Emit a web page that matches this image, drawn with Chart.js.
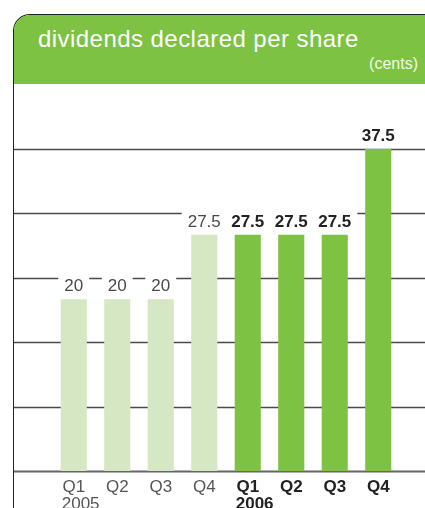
<!DOCTYPE html>
<html>
<head>
<meta charset="utf-8">
<script src="https://cdn.jsdelivr.net/npm/chart.js@4/dist/chart.umd.min.js"></script>
<style>
    body { margin: 0; width: 425px; height: 508px; overflow: hidden; background: #fff; font-family: "Liberation Sans", Arial, sans-serif; position: relative; }
    .frame { position: absolute; left: 13px; top: 14px; width: 440px; height: 520px; border-left: 1.5px solid #222; border-top: 1.5px solid #222; border-top-left-radius: 17px; overflow: hidden; }
    .head { position: absolute; left: 0; top: 0; right: 0; height: 69px; background: #7dc242; }
    .title { position: absolute; left: 24px; top: 10px; color: #fff; font-size: 24px; letter-spacing: 0.45px; white-space: nowrap; }
    .unit { position: absolute; right: 36px; top: 40px; color: #f2f8ea; font-size: 16px; }
    #chart { position: absolute; left: 0; top: 0; }
</style>
</head>
<body>
<div class="frame">
    <div class="head">
        <div class="title">dividends declared per share</div>
        <div class="unit">(cents)</div>
    </div>
</div>
<canvas id="chart" width="425" height="508"></canvas>
<script>
const quarters = ["Q1", "Q2", "Q3", "Q4", "Q1", "Q2", "Q3", "Q4"];
const years = ["2005", "", "", "", "2006", "", "", ""];
const dividends = [20, 20, 20, 27.5, 27.5, 27.5, 27.5, 37.5];
const gridValues = [0, 7.5, 15, 22.5, 30, 37.5];
const labelText = ["20", "20", "20", "27.5", "27.5", "27.5", "27.5", "37.5"];

const isNew = (i) => i >= 4;

// gridlines across the whole panel, behind the bars
const gridPlugin = {
    id: 'fullGrid',
    beforeDatasetsDraw(chart) {
        const ctx = chart.ctx;
        const y = chart.scales.y;
        ctx.save();
        gridValues.forEach((v) => {
            const py = Math.round(y.getPixelForValue(v)) + 0.5;
            ctx.strokeStyle = v === 0 ? '#666' : '#4a4a4a';
            ctx.lineWidth = v === 0 ? 2 : 1.3;
            ctx.beginPath();
            ctx.moveTo(14, py);
            ctx.lineTo(425, py);
            ctx.stroke();
        });
        ctx.restore();
    }
};

// value labels on a white box, plus the year under the first quarter
const labelPlugin = {
    id: 'valueLabels',
    afterDatasetsDraw(chart) {
        const ctx = chart.ctx;
        const meta = chart.getDatasetMeta(0);
        ctx.save();
        ctx.textAlign = 'center';
        ctx.textBaseline = 'middle';
        meta.data.forEach((bar, i) => {
            ctx.font = (isNew(i) ? 'bold ' : '') + '17px "Liberation Sans", Arial, sans-serif';
            const w = ctx.measureText(labelText[i]).width + 12;
            const cy = bar.y - 14;
            ctx.fillStyle = '#fff';
            ctx.fillRect(bar.x - w / 2, cy - 9, w, 18);
            ctx.fillStyle = isNew(i) ? '#222' : '#4a4a4a';
            ctx.fillText(labelText[i], bar.x, cy + 1);
        });

        const xs = chart.scales.x;
        ctx.textAlign = 'left';
        years.forEach((yr, i) => {
            if (!yr) return;
            const bar = meta.data[i];
            ctx.font = (isNew(i) ? 'bold ' : '') + '17px "Liberation Sans", Arial, sans-serif';
            ctx.fillStyle = isNew(i) ? '#222' : '#555';
            ctx.fillText(yr, bar.x - 12, xs.top + 33);
        });
        ctx.restore();
    }
};

new Chart(document.getElementById('chart'), {
    type: 'bar',
    data: {
        labels: quarters,
        datasets: [{
            data: dividends,
            backgroundColor: dividends.map((v, i) => isNew(i) ? '#7dc242' : '#d5e8c3'),
            barPercentage: 0.6,
            categoryPercentage: 1
        }]
    },
    options: {
        responsive: false,
        animation: false,
        layout: { padding: { left: 52, right: 25, top: 149, bottom: 0 } },
        plugins: { legend: { display: false }, tooltip: { enabled: false } },
        scales: {
            y: { display: false, min: 0, max: 37.5 },
            x: {
                grid: { display: false, drawTicks: false },
                border: { display: false },
                afterFit: (scale) => { scale.height = 37; },
                ticks: {
                    padding: 6,
                    color: (c) => isNew(c.index) ? '#222' : '#555',
                    font: (c) => ({ family: '"Liberation Sans", Arial, sans-serif', size: 17, weight: isNew(c.index) ? 'bold' : 'normal' })
                }
            }
        }
    },
    plugins: [gridPlugin, labelPlugin]
});
</script>
</body>
</html>
